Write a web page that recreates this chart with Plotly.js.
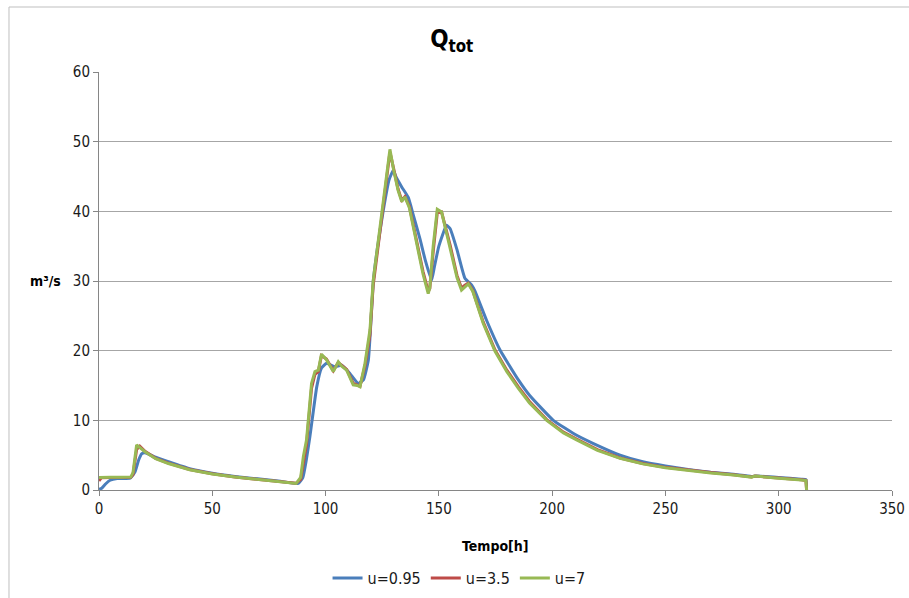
<!DOCTYPE html>
<html>
<head>
<meta charset="utf-8">
<script src="https://cdn.plot.ly/plotly-3.0.1.min.js"></script>
<style>html,body{margin:0;padding:0;background:#fff;}#chart{width:909px;height:598px;}</style>
</head>
<body>
<div id="chart"></div>
<script>
// u=7 (green) and u=3.5 (red) share time samples
const tGreen = [0,1,5,10,14,15,16.6,18,20.3,25,30.6,40,50,60,70,80,87,89,90.2,91.6,93.8,95.3,96.8,98.2,100.4,102,103.4,105.6,107,109.3,112.2,114,115.2,117.4,119.6,121,124,126,128.4,130,132,133.6,135,137,140.2,143,145.3,146,147.5,149.3,151.2,153,155,158,160,161.5,163,165,167,169.6,174.8,180,185.1,190,197.6,205,210.8,220,230,240,250,260,270,280,288,289.5,291,300,310,312,312.3];
const qGreen = [1.8,1.82,1.82,1.82,1.85,2.5,6.46,6.1,5.5,4.5,3.8,2.9,2.3,1.85,1.5,1.15,0.95,1.8,4.8,7.2,15.3,17,17.2,19.5,18.7,17.8,17.0,18.4,17.8,17.2,15.1,15.0,14.8,18.2,23,30,38,43,48.9,46,43,41.4,42.1,40.5,35.4,31,28.2,29,35,40.3,39.9,37.5,34.8,30.5,28.7,29.2,29.6,28.5,26.5,23.9,19.9,17,14.6,12.5,10.0,8.2,7.2,5.7,4.55,3.75,3.2,2.8,2.45,2.15,1.85,2.0,1.95,1.7,1.45,1.35,0];
const qRed = [1.3,1.75,1.8,1.8,1.82,2.2,5.8,6.3,5.55,4.55,3.85,2.95,2.32,1.87,1.52,1.17,0.96,1.5,4.2,6.6,14.6,16.6,17.0,19.3,18.8,17.9,17.1,18.3,17.9,17.3,15.3,15.1,14.9,17.8,22.3,29.3,37.4,42.6,48.5,46.2,43.2,41.6,42.1,40.7,35.8,31.4,28.5,28.9,34.2,39.8,39.9,37.8,35.1,30.8,29.0,29.4,29.7,28.6,26.7,24.1,20.1,17.2,14.8,12.7,10.1,8.3,7.3,5.8,4.6,3.8,3.25,2.85,2.5,2.2,1.88,2.0,1.95,1.72,1.47,1.38,0];
// u=0.95 (blue)
const tBlue = [0,1.2,3,4.9,8,13.7,15.9,17.5,18.8,20.3,25,30.6,40,50,60,70,80,88,90,91.5,93.1,96.1,98.2,100.4,102,104.2,107.1,110.8,114.4,116.7,118.9,121.1,123,125.5,128,129.9,131,133.6,136.5,138.7,141.7,144,146.8,148,150,153.4,155,158,161.5,164.5,166,171,177,185.1,190,200.5,210,218,230,240,250,260,270,280,288,290,300,310,312,312.3];
const qBlue = [0.1,0.25,0.9,1.4,1.65,1.7,2.6,4.3,5.2,5.35,4.7,4.06,3.05,2.4,1.95,1.6,1.25,0.95,1.8,4.3,7.7,14.8,17.5,18.2,18.0,17.7,17.9,16.7,15.3,15.8,18.7,30.1,35,40.2,44.5,45.9,45,43.5,42.0,39.5,36.0,33,30.1,32,35,38.0,37.5,34.5,30.4,29.4,28.5,24.4,20.1,15.8,13.6,10,8.0,6.7,5.0,4.05,3.45,2.95,2.55,2.25,1.95,2.0,1.8,1.55,1.5,0.5];

const seriesNames = ['u=0.95','u=3.5','u=7'];
const yTicks = [0,10,20,30,40,50,60];
const xTicks = [0,50,100,150,200,250,300,350];

const FONT = '"Liberation Sans Narrow", "DejaVu Sans Condensed", "Liberation Sans", Arial, sans-serif';

const traces = [
  {x: tBlue, y: qBlue, name: seriesNames[0], mode: 'lines', line: {color: '#4a7ebb', width: 3, shape: 'spline', smoothing: 0.4}},
  {x: tGreen, y: qRed, name: seriesNames[1], mode: 'lines', line: {color: '#be4b48', width: 3}},
  {x: tGreen, y: qGreen, name: seriesNames[2], mode: 'lines', line: {color: '#98b954', width: 3}}
];

const layout = {
  width: 909, height: 598,
  margin: {l: 99, r: 17, t: 72, b: 108},
  paper_bgcolor: '#ffffff', plot_bgcolor: '#ffffff',
  font: {family: FONT, size: 15, color: '#1a1a1a'},
  title: {text: '<b>Q<sub>tot</sub></b>', x: 0.497, xref: 'container', y: 0.935, yref: 'container', yanchor: 'middle', font: {size: 24, family: FONT, color: '#000'}},
  xaxis: {
    range: [0, 350], tickvals: xTicks, ticktext: xTicks.map(String), automargin: false,
    showgrid: false, zeroline: false, showline: true, linecolor: '#868686', linewidth: 1,
    ticks: 'outside', ticklen: 5, tickcolor: '#868686', tickfont: {size: 15}
  },
  yaxis: {
    range: [0, 60], tickvals: yTicks, ticktext: yTicks.map(String), automargin: false,
    showgrid: true, gridcolor: '#a6a6a6', gridwidth: 1, zeroline: false,
    showline: true, linecolor: '#868686', linewidth: 1,
    ticks: 'outside', ticklen: 5, tickcolor: '#868686', tickfont: {size: 15}
  },
  annotations: [
    {text: '<b>m³/s</b>', xref: 'paper', yref: 'paper', x: -0.068, y: 0.5, xanchor: 'center', yanchor: 'middle',
     showarrow: false, font: {size: 14, color: '#000'}},
    {text: '<b>Tempo[h]</b>', xref: 'paper', yref: 'paper', x: 0.5, y: -0.134, xanchor: 'center', yanchor: 'middle',
     showarrow: false, font: {size: 14, color: '#000'}}
  ],
  shapes: [
    {type: 'line', xref: 'paper', yref: 'paper', x0: -0.1135, x1: -0.1135, y0: -0.3, y1: 1.1555, line: {color: '#bfbfbf', width: 1}},
    {type: 'line', xref: 'paper', yref: 'paper', x0: -0.1135, x1: 1.03, y0: 1.1555, y1: 1.1555, line: {color: '#bfbfbf', width: 1}}
  ],
  legend: {orientation: 'h', x: 0.505, xref: 'container', xanchor: 'center', y: 0.0334, yref: 'container', yanchor: 'middle', font: {size: 16}, traceorder: 'normal'},
  showlegend: true
};

Plotly.newPlot('chart', traces, layout, {displayModeBar: false, staticPlot: true});
</script>
</body>
</html>
